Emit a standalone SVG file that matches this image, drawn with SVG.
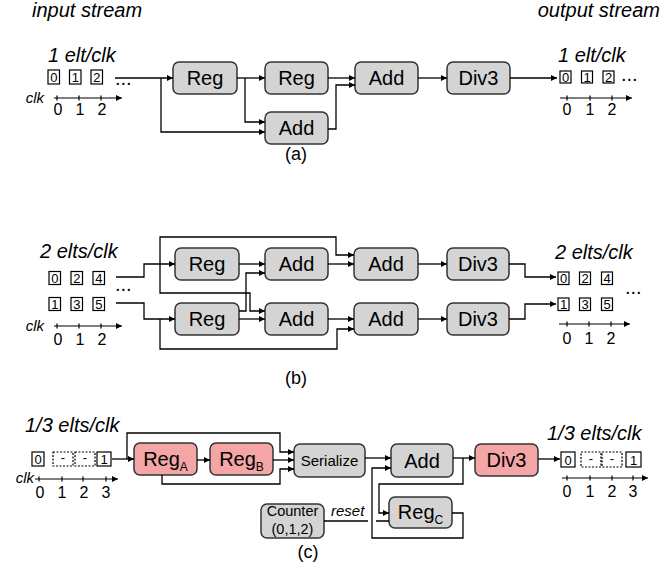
<svg xmlns="http://www.w3.org/2000/svg" width="668" height="569" viewBox="0 0 668 569">
  <defs>
    <marker id="ah" viewBox="0 0 10 10" refX="10" refY="5" markerWidth="7" markerHeight="6" markerUnits="userSpaceOnUse" orient="auto">
      <path d="M0,0 L10,5 L0,10 z" fill="#000"/>
    </marker>
    <style>
      text { font-family: "Liberation Sans", Arial, sans-serif; fill: #000; }
      .blk rect { fill: #d4d4d4; stroke: #333; stroke-width: 1.5; }
      .pink rect { fill: #f4a5a5; }
      .blk text { font-size: 20px; text-anchor: middle; }
      .blk text.sm { font-size: 15px; }
      .blk text.xs { font-size: 14.5px; }
      .w { fill: none; stroke: #000; stroke-width: 1.3; }
      .a { marker-end: url(#ah); }
      .hdr { font-size: 20px; font-style: italic; }
      .cell rect { fill: #fff; stroke: #000; stroke-width: 1.2; }
      .cell rect.d { stroke-dasharray: 2 1.5; }
      .cell text { font-size: 13px; text-anchor: middle; }
      .dots { font-size: 20px; }
      .ax line { stroke: #000; stroke-width: 1.2; }
      .ax text { font-size: 16px; text-anchor: middle; }
      .ax text.clk { font-size: 15px; font-style: italic; text-anchor: end; }
      .cap { font-size: 18px; text-anchor: middle; }
      .note { font-size: 15px; font-style: italic; }
    </style>
  </defs>

  <!-- headings -->
  <text class="hdr" x="32" y="17">input stream</text>
  <text class="hdr" x="660" y="17" text-anchor="end">output stream</text>

  <!-- ===================== (a) 1 elt/clk ===================== -->
  <text class="hdr" x="48" y="62">1 elt/clk</text>
  <g id="a-in" class="cell">
    <rect x="48" y="70" width="11.5" height="14"/><text x="53.8" y="81.5">0</text>
    <rect x="69.5" y="70" width="11.5" height="14"/><text x="75.3" y="81.5">1</text>
    <rect x="91" y="70" width="11.5" height="14"/><text x="96.8" y="81.5">2</text>
  </g>
  <text class="dots" x="115" y="85">...</text>
  <g id="a-in-axis" class="ax">
    <text class="clk" x="44" y="103">clk</text>
    <line x1="54" y1="98" x2="122" y2="98" marker-end="url(#ah)"/>
    <line x1="57" y1="95.5" x2="57" y2="100.5"/><line x1="79" y1="95.5" x2="79" y2="100.5"/><line x1="101" y1="95.5" x2="101" y2="100.5"/>
    <text x="58" y="115">0</text><text x="80" y="115">1</text><text x="102" y="115">2</text>
  </g>

  <g id="a-reg1" class="blk"><rect x="173" y="62" width="64" height="32" rx="6"/><text x="205" y="85">Reg</text></g>
  <g id="a-reg2" class="blk"><rect x="265" y="62" width="63" height="32" rx="6"/><text x="296.5" y="85">Reg</text></g>
  <g id="a-add1" class="blk"><rect x="265" y="112" width="63" height="32" rx="6"/><text x="296.5" y="135">Add</text></g>
  <g id="a-add2" class="blk"><rect x="355" y="62" width="63" height="32" rx="6"/><text x="386.5" y="85">Add</text></g>
  <g id="a-div3" class="blk"><rect x="447" y="62" width="63" height="32" rx="6"/><text x="478.5" y="85">Div3</text></g>

  <g id="a-wires">
    <path class="w a" d="M115 78 H173"/>
    <path class="w a" d="M161 78 V132 H265"/>
    <path class="w a" d="M237 78 H265"/>
    <path class="w a" d="M245 78 V122 H265"/>
    <path class="w a" d="M328 78 H355"/>
    <path class="w a" d="M328 129 H336 V85 H355"/>
    <path class="w a" d="M418 78 H447"/>
    <path class="w a" d="M510 78 H557"/>
  </g>

  <text class="hdr" x="558" y="62">1 elt/clk</text>
  <g id="a-out" class="cell">
    <rect x="560" y="71" width="11" height="12"/><text x="565.5" y="81.5">0</text>
    <rect x="581.5" y="71" width="11" height="12"/><text x="587" y="81.5">1</text>
    <rect x="603" y="71" width="11" height="12"/><text x="608.5" y="81.5">2</text>
  </g>
  <text class="dots" x="621" y="81">...</text>
  <g id="a-out-axis" class="ax">
    <line x1="560" y1="98" x2="632" y2="98" marker-end="url(#ah)"/>
    <line x1="567" y1="95.5" x2="567" y2="100.5"/><line x1="590" y1="95.5" x2="590" y2="100.5"/><line x1="612" y1="95.5" x2="612" y2="100.5"/>
    <text x="567" y="115">0</text><text x="590" y="115">1</text><text x="612" y="115">2</text>
  </g>
  <text class="cap" x="296" y="160">(a)</text>

  <!-- ===================== (b) 2 elts/clk ===================== -->
  <text class="hdr" x="40" y="258">2 elts/clk</text>
  <g id="b-in" class="cell">
    <rect x="49" y="271.5" width="11.5" height="13"/><text x="54.8" y="282.5">0</text>
    <rect x="71" y="271.5" width="11.5" height="13"/><text x="76.8" y="282.5">2</text>
    <rect x="93" y="271.5" width="11.5" height="13"/><text x="98.8" y="282.5">4</text>
    <rect x="49" y="297.5" width="11.5" height="13"/><text x="54.8" y="308.5">1</text>
    <rect x="71" y="297.5" width="11.5" height="13"/><text x="76.8" y="308.5">3</text>
    <rect x="93" y="297.5" width="11.5" height="13"/><text x="98.8" y="308.5">5</text>
  </g>
  <text class="dots" x="115" y="291">...</text>
  <g id="b-in-axis" class="ax">
    <text class="clk" x="44" y="331">clk</text>
    <line x1="54" y1="326" x2="122" y2="326" marker-end="url(#ah)"/>
    <line x1="57" y1="323.5" x2="57" y2="328.5"/><line x1="79" y1="323.5" x2="79" y2="328.5"/><line x1="101" y1="323.5" x2="101" y2="328.5"/>
    <text x="58" y="345">0</text><text x="80" y="345">1</text><text x="102" y="345">2</text>
  </g>

  <g id="b-reg0" class="blk"><rect x="175" y="248" width="64" height="32" rx="6"/><text x="207" y="271">Reg</text></g>
  <g id="b-reg1" class="blk"><rect x="175" y="303" width="64" height="32" rx="6"/><text x="207" y="326">Reg</text></g>
  <g id="b-add00" class="blk"><rect x="265" y="248" width="63" height="32" rx="6"/><text x="296.5" y="271">Add</text></g>
  <g id="b-add10" class="blk"><rect x="265" y="303" width="63" height="32" rx="6"/><text x="296.5" y="326">Add</text></g>
  <g id="b-add01" class="blk"><rect x="354" y="248" width="64" height="32" rx="6"/><text x="386" y="271">Add</text></g>
  <g id="b-add11" class="blk"><rect x="354" y="303" width="64" height="32" rx="6"/><text x="386" y="326">Add</text></g>
  <g id="b-div0" class="blk"><rect x="447" y="248" width="62" height="32" rx="6"/><text x="478" y="271">Div3</text></g>
  <g id="b-div1" class="blk"><rect x="447" y="303" width="62" height="32" rx="6"/><text x="478" y="326">Div3</text></g>

  <g id="b-wires">
    <path class="w a" d="M116 277 H144 V264 H175"/>
    <path class="w a" d="M116 303 H144 V319 H175"/>
    <path class="w a" d="M160 264 V237 H336 V255 H354"/>
    <path class="w a" d="M160 264 V293 H250 V311 H265"/>
    <path class="w a" d="M160 319 V349 H337 V329 H354"/>
    <path class="w a" d="M239 264 H265"/>
    <path class="w a" d="M239 311 H246 V273 H265"/>
    <path class="w a" d="M239 319 H265"/>
    <path class="w a" d="M328 264 H354"/>
    <path class="w a" d="M328 319 H354"/>
    <path class="w a" d="M418 264 H447"/>
    <path class="w a" d="M418 319 H447"/>
    <path class="w a" d="M509 264 H525 V277 H556"/>
    <path class="w a" d="M509 319 H525 V304 H556"/>
  </g>

  <text class="hdr" x="555" y="259">2 elts/clk</text>
  <g id="b-out" class="cell">
    <rect x="558" y="272" width="11" height="12.5"/><text x="563.5" y="283">0</text>
    <rect x="579.5" y="272" width="11" height="12.5"/><text x="585" y="283">2</text>
    <rect x="601.5" y="272" width="11" height="12.5"/><text x="607" y="283">4</text>
    <rect x="558" y="298" width="11" height="12.5"/><text x="563.5" y="309">1</text>
    <rect x="579.5" y="298" width="11" height="12.5"/><text x="585" y="309">3</text>
    <rect x="601.5" y="298" width="11" height="12.5"/><text x="607" y="309">5</text>
  </g>
  <text class="dots" x="625" y="294">...</text>
  <g id="b-out-axis" class="ax">
    <line x1="559" y1="324" x2="630" y2="324" marker-end="url(#ah)"/>
    <line x1="567" y1="321.5" x2="567" y2="326.5"/><line x1="589" y1="321.5" x2="589" y2="326.5"/><line x1="611" y1="321.5" x2="611" y2="326.5"/>
    <text x="567" y="344">0</text><text x="589" y="344">1</text><text x="611" y="344">2</text>
  </g>
  <text class="cap" x="296" y="384">(b)</text>

  <!-- ===================== (c) 1/3 elts/clk ===================== -->
  <text class="hdr" x="25" y="432">1/3 elts/clk</text>
  <g id="c-in" class="cell">
    <rect x="32" y="452" width="12" height="14"/><text x="38" y="463.5">0</text>
    <rect class="d" x="53" y="452" width="20" height="14"/><text x="63" y="462">-</text>
    <rect class="d" x="75" y="452" width="20" height="14"/><text x="85" y="462">-</text>
    <rect x="97" y="452" width="14" height="14"/><text x="104" y="463.5">1</text>
  </g>
  <g id="c-in-axis" class="ax">
    <text class="clk" x="34" y="483">clk</text>
    <line x1="35" y1="479" x2="118" y2="479" marker-end="url(#ah)"/>
    <line x1="39" y1="476.5" x2="39" y2="481.5"/><line x1="62" y1="476.5" x2="62" y2="481.5"/><line x1="83" y1="476.5" x2="83" y2="481.5"/><line x1="106" y1="476.5" x2="106" y2="481.5"/>
    <text x="40" y="498">0</text><text x="62" y="498">1</text><text x="84" y="498">2</text><text x="106" y="498">3</text>
  </g>

  <g id="c-rega" class="blk pink"><rect x="134" y="443" width="63" height="32" rx="6"/><text x="165.5" y="466">Reg<tspan font-size="12" dy="5">A</tspan></text></g>
  <g id="c-regb" class="blk pink"><rect x="210" y="443" width="63" height="32" rx="6"/><text x="241.5" y="466">Reg<tspan font-size="12" dy="5">B</tspan></text></g>
  <g id="c-ser" class="blk"><rect x="294" y="444" width="71" height="33" rx="6"/><text class="sm" x="329.5" y="466">Serialize</text></g>
  <g id="c-add" class="blk"><rect x="391" y="444" width="62" height="33" rx="6"/><text x="422" y="467.5">Add</text></g>
  <g id="c-div3" class="blk pink"><rect x="475" y="444" width="63" height="32" rx="6"/><text x="506.5" y="467">Div3</text></g>
  <g id="c-regc" class="blk"><rect x="389" y="497" width="63" height="31" rx="6"/><text x="420.5" y="519">Reg<tspan font-size="12" dy="5">C</tspan></text></g>
  <g id="c-counter" class="blk"><rect x="261" y="504" width="63" height="34" rx="6"/>
    <text class="xs" x="292.5" y="516">Counter</text><text class="xs" x="292.5" y="533.5">(0,1,2)</text></g>

  <g id="c-wires">
    <path class="w a" d="M112 459 H134"/>
    <path class="w a" d="M127 459 V433 H280 V452 H294"/>
    <path class="w a" d="M197 460 H210"/>
    <path class="w a" d="M273 460 H294"/>
    <path class="w a" d="M162 475 V484 H280 V469 H294"/>
    <path class="w a" d="M365 458 H391"/>
    <path class="w a" d="M453 458 H475"/>
    <path class="w a" d="M463 458 V484 H379 V513 H389"/>
    <path class="w a" d="M452 513 H463 V538 H372 V468 H391"/>
    <path class="w" d="M324 521 H368 M376 521 H389"/>
    <path class="w a" d="M538 459 H560"/>
  </g>
  <text class="note" x="331" y="516">reset</text>

  <text class="hdr" x="547" y="440">1/3 elts/clk</text>
  <g id="c-out" class="cell">
    <rect x="561" y="452" width="14" height="15"/><text x="568" y="464.5">0</text>
    <rect class="d" x="581" y="452" width="20" height="15"/><text x="591" y="463">-</text>
    <rect class="d" x="602" y="452" width="20" height="15"/><text x="612" y="463">-</text>
    <rect x="626" y="452" width="15" height="15"/><text x="633.5" y="464.5">1</text>
  </g>
  <g id="c-out-axis" class="ax">
    <line x1="562" y1="478" x2="648" y2="478" marker-end="url(#ah)"/>
    <line x1="567" y1="475.5" x2="567" y2="480.5"/><line x1="590" y1="475.5" x2="590" y2="480.5"/><line x1="612" y1="475.5" x2="612" y2="480.5"/><line x1="633" y1="475.5" x2="633" y2="480.5"/>
    <text x="567" y="497">0</text><text x="590" y="497">1</text><text x="612" y="497">2</text><text x="633" y="497">3</text>
  </g>
  <text class="cap" x="308" y="558">(c)</text>
</svg>
